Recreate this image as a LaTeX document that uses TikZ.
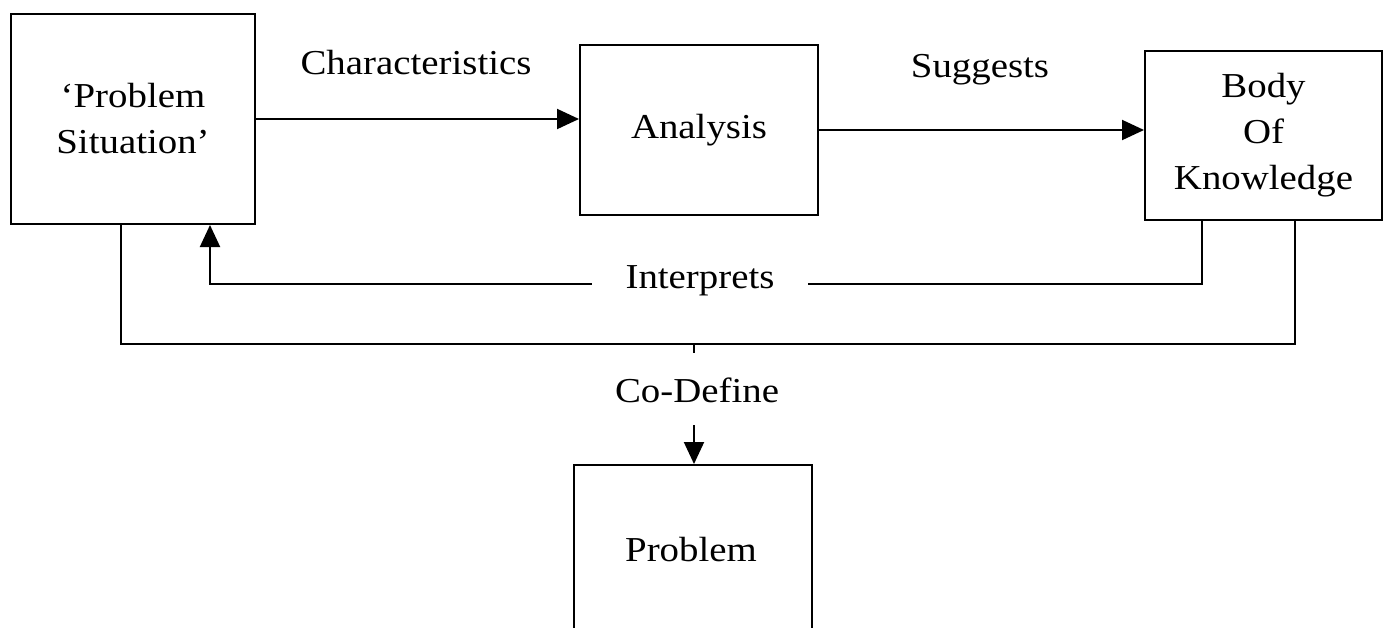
\documentclass[tikz,border=0pt]{standalone}
\usepackage{fontspec}
\setmainfont{Liberation Serif}[FakeStretch=1.11]
\usetikzlibrary{arrows.meta,calc}
\begin{document}
\begin{tikzpicture}[x=0.5pt,y=-0.5pt,
  line width=1pt,
  box/.style={draw,line width=1pt,inner sep=0pt,align=center,
    font=\fontsize{17.5}{23}\selectfont},
  lbl/.style={font=\fontsize{17.5}{23}\selectfont,inner sep=0pt},
  tip/.style={-{Triangle[length=11pt,width=10pt]}}]
\useasboundingbox (0,0) rectangle (1387,627);
\clip (0,0) rectangle (1387,627);

% boxes
\node[box,minimum width=122pt,minimum height=105pt] (ps) at (133,119)
  {‘Problem\\Situation’};
\node[box,minimum width=119pt,minimum height=85pt] (ana) at (699,130)
  {Analysis};
\node[box,minimum width=118.5pt,minimum height=84.5pt] (bok) at (1263.5,135.5)
  {Body\\Of\\Knowledge};
\node[box,minimum width=119pt,minimum height=105pt,text depth=0pt] (prob) at (693,570) {};
\node[lbl] (probt) at (691,550) {Problem};

% forward arrows
\draw[tip] (ps.east) -- (ps.east -| ana.west);
\node[lbl] (charl) at (416,63) {Characteristics};
\draw[tip] (ana.east) -- (ana.east -| bok.west);
\node[lbl] (sugl) at (980,70) {Suggests};

% interprets loop
\coordinate (i1) at (1202,284);
\coordinate (i2) at (210,284);
\draw[tip] (bok.south -| i1) -- (i1) -- (i2) -- (i2 |- ps.south);
\node[lbl,fill=white,inner xsep=17pt,inner ysep=4pt] (intl) at (700,281) {Interprets};

% co-define
\coordinate (c1) at (121,344);
\coordinate (c2) at (1295,344);
\coordinate (cm) at (694,344);
\draw (ps.south -| c1) -- (c1) -- (c2) -- (bok.south -| c2);
\draw (cm) -- ++(0,9);
\node[lbl] (cdl) at (697,390) {Co-Define};
\coordinate (ca) at (694,425);
\draw[tip] (ca) -- (ca |- prob.north);
\end{tikzpicture}
\end{document}
